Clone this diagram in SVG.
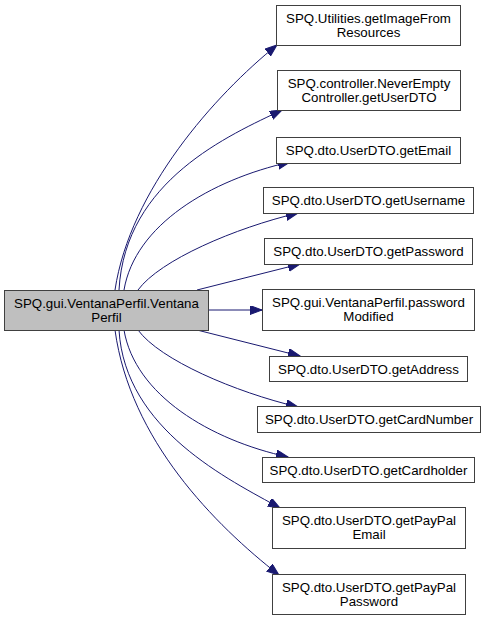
<svg xmlns="http://www.w3.org/2000/svg" width="485" height="620" viewBox="0 0 485 620">
<style>
.n rect{fill:#fff;stroke:#404040;stroke-width:1}
.n.root rect{fill:#bfbfbf}
.n text{font-family:"Liberation Sans",Arial,sans-serif;font-size:13.3px;fill:#000;text-anchor:middle}
.e path{fill:none;stroke:#191970;stroke-width:1}
</style>
<defs>
<marker id="ah" markerUnits="userSpaceOnUse" markerWidth="14" markerHeight="12" refX="12" refY="4.5" orient="auto" viewBox="0 0 14 12">
<path d="M0,0 L12,4.5 L0,9 z" fill="#191970" stroke="#191970"/>
</marker>
</defs>
<g class="e">
<path marker-end="url(#ah)" d="M115,290 C130,190 215,95 277,45"/>
<path marker-end="url(#ah)" d="M119,290 C125,180 230,135 282,110"/>
<path marker-end="url(#ah)" d="M124,290 C135,225 210,180 290,162"/>
<path marker-end="url(#ah)" d="M138,290 C160,260 235,228 298,213"/>
<path marker-end="url(#ah)" d="M197,290 L300,264"/>
<path marker-end="url(#ah)" d="M209,310 L262,310"/>
<path marker-end="url(#ah)" d="M197,330 L300,356"/>
<path marker-end="url(#ah)" d="M138,330 C160,360 235,392 298,407"/>
<path marker-end="url(#ah)" d="M124,330 C135,395 210,440 288,457"/>
<path marker-end="url(#ah)" d="M119,330 C125,430 230,480 280,508"/>
<path marker-end="url(#ah)" d="M115,330 C130,440 215,525 279,575"/>
</g>
<g id="root" class="n root"><rect x="4.5" y="290.5" width="204" height="40"/><text x="106.5" y="308">SPQ.gui.VentanaPerfil.Ventana</text><text x="106.5" y="322">Perfil</text></g>
<g id="n1" class="n"><rect x="276.5" y="5.5" width="184" height="40"/><text x="368.5" y="23">SPQ.Utilities.getImageFrom</text><text x="368.5" y="37">Resources</text></g>
<g id="n2" class="n"><rect x="277.5" y="70.5" width="183" height="40"/><text x="369" y="88">SPQ.controller.NeverEmpty</text><text x="369" y="102">Controller.getUserDTO</text></g>
<g id="n3" class="n"><rect x="276.5" y="137.5" width="184" height="26"/><text x="368.5" y="155">SPQ.dto.UserDTO.getEmail</text></g>
<g id="n4" class="n"><rect x="263.5" y="187.5" width="210" height="26"/><text x="368.5" y="205">SPQ.dto.UserDTO.getUsername</text></g>
<g id="n5" class="n"><rect x="264.5" y="238.5" width="208" height="26"/><text x="368.5" y="256">SPQ.dto.UserDTO.getPassword</text></g>
<g id="n6" class="n"><rect x="262.5" y="289.5" width="212" height="41"/><text x="368.5" y="307">SPQ.gui.VentanaPerfil.password</text><text x="368.5" y="321">Modified</text></g>
<g id="n7" class="n"><rect x="269.5" y="356.5" width="198" height="25"/><text x="368.5" y="373.5">SPQ.dto.UserDTO.getAddress</text></g>
<g id="n8" class="n"><rect x="257.5" y="406.5" width="223" height="26"/><text x="369" y="424">SPQ.dto.UserDTO.getCardNumber</text></g>
<g id="n9" class="n"><rect x="262.5" y="457.5" width="212" height="25"/><text x="368.5" y="474.5">SPQ.dto.UserDTO.getCardholder</text></g>
<g id="n10" class="n"><rect x="272.5" y="507.5" width="193" height="41"/><text x="369" y="525">SPQ.dto.UserDTO.getPayPal</text><text x="369" y="539">Email</text></g>
<g id="n11" class="n"><rect x="272.5" y="574.5" width="193" height="40"/><text x="369" y="592">SPQ.dto.UserDTO.getPayPal</text><text x="369" y="606">Password</text></g>
</svg>
